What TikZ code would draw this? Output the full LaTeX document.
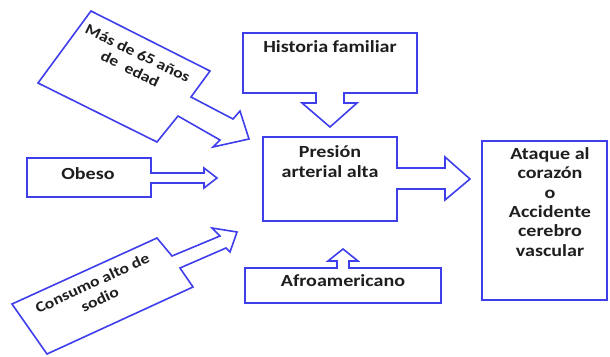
\documentclass[tikz,border=0pt]{standalone}
\usepackage{fontspec}
\setmainfont{Carlito}[FakeStretch=1.18]
\definecolor{cblue}{RGB}{62,62,236}
\definecolor{ctext}{RGB}{30,30,30}
\begin{document}
\begin{tikzpicture}[x=1pt,y=-1pt,
  shp/.style={draw=cblue, line width=1.6pt, fill=white, line join=miter},
  lbl/.style={text=ctext, font=\bfseries\fontsize{17}{19.3}\selectfont, align=center, inner sep=0pt},
  rlbl/.style={text=ctext, font=\bfseries\fontsize{15}{17.5}\selectfont, align=center, inner sep=0pt}]
\useasboundingbox (0,0) rectangle (610,356);
% Historia familiar
\draw[shp] (243,33) -- (417,33) -- (417,93) -- (344,93) -- (344,103) -- (357,103) -- (330,127)
  -- (302,103) -- (316,103) -- (316,93) -- (243,93) -- cycle;
\node[lbl, anchor=base] (hist) at (330,52) {Historia familiar};
% Presion arterial alta
\draw[shp] (263,137) -- (397,137) -- (397,168) -- (445,168) -- (445,157) -- (470,179)
  -- (445,200) -- (445,189) -- (397,189) -- (397,221) -- (263,221) -- cycle;
\node[lbl, anchor=base] (pres) at (330,177) {Presión\\arterial alta};
% Ataque
\draw[shp] (482,141) rectangle (607,300);
\node[lbl, anchor=base] (ataq) at (550,256) {Ataque al\\corazón\\o\\Accidente\\cerebro\\vascular};
% Afroamericano
\draw[shp] (245,268) -- (337,268) -- (337,261) -- (328,261) -- (343,249) -- (358,261)
  -- (349,261) -- (349,268) -- (441,268) -- (441,303) -- (245,303) -- cycle;
\node[lbl, anchor=base] (afro) at (343,286) {Afroamericano};
% Obeso
\draw[shp] (27,158) -- (151,158) -- (151,173) -- (204,173) -- (204,168) -- (217,178)
  -- (204,188) -- (204,183) -- (151,183) -- (151,197) -- (27,197) -- cycle;
\node[lbl, anchor=base] (obes) at (88,179) {Obeso};
% Mas de 65 anos
\draw[shp] (91,11) -- (210,71) -- (191,97) -- (233,119) -- (240,111) -- (249,139)
  -- (213,147) -- (220,140) -- (178,116) -- (157,142) -- (38,83) -- cycle;
\node[rlbl, rotate=-26] (mas) at (134,61) {Más de 65 años\\de~~edad};
% Consumo alto de sodio
\draw[shp] (12,304) -- (157,238) -- (172,256) -- (220,236) -- (212,228) -- (237,232)
  -- (230,252) -- (226,248) -- (180,268) -- (193,287) -- (47,354) -- cycle;
\node[rlbl, rotate=25] (cons) at (96,291) {Consumo alto de\\sodio};
\end{tikzpicture}
\end{document}
